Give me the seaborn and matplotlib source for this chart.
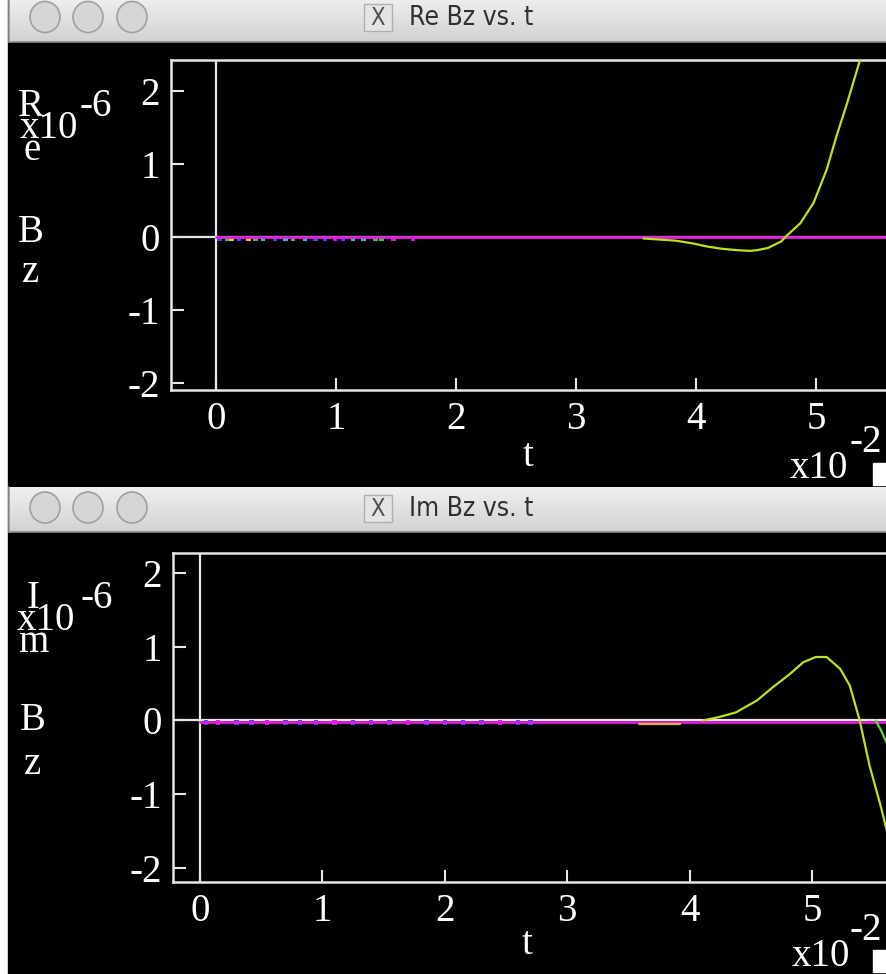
import numpy as np
import pandas as pd
import seaborn as sns
import matplotlib.pyplot as plt
from matplotlib.patches import Rectangle, Ellipse
from matplotlib.colors import LinearSegmentedColormap

# ---- data ----
re_t = [3.56, 3.83, 3.98, 4.09, 4.21, 4.34, 4.45, 4.51, 4.60, 4.71, 4.75,
        4.87, 4.98, 5.09, 5.17, 5.26, 5.36, 5.40]
re_bz = [-0.02, -0.05, -0.09, -0.13, -0.16, -0.18, -0.19, -0.18, -0.15, -0.06, 0.01,
         0.19, 0.47, 0.93, 1.38, 1.84, 2.39, 2.65]

im_t = [4.11, 4.25, 4.38, 4.55, 4.68, 4.82, 4.93, 5.03, 5.12, 5.23, 5.31,
        5.39, 5.47, 5.56, 5.62]
im_bz = [0.0, 0.05, 0.11, 0.27, 0.45, 0.63, 0.79, 0.86, 0.86, 0.70, 0.47,
         0.0, -0.61, -1.15, -1.55]
im2_t = [5.52, 5.56, 5.61]
im2_bz = [0.0, -0.12, -0.30]
im_seg_t = [3.59, 3.92]
im_seg_bz = [-0.05, -0.05]

re_noise_t = [0.03, 0.09, 0.13, 0.19, 0.27, 0.33, 0.39, 0.49, 0.58, 0.64, 0.74,
              0.83, 0.91, 0.99, 1.06, 1.14, 1.23, 1.33, 1.38, 1.48, 1.64]
re_noise_c = ["blue", "green", "yellow", "blue", "yellow", "green", "cyan", "blue",
              "cyan", "green", "cyan", "blue", "blue", "magenta", "blue", "cyan",
              "cyan", "green", "green", "magenta", "magenta"]
im_noise_t = [0.05, 0.15, 0.30, 0.42, 0.55, 0.70, 0.82, 0.95, 1.10, 1.25, 1.40,
              1.55, 1.70, 1.85, 2.00, 2.15, 2.30, 2.45, 2.60, 2.70]
im_noise_c = ["blue", "magenta", "blue", "blue", "magenta", "blue", "blue", "blue",
              "magenta", "blue", "blue", "blue", "magenta", "blue", "blue", "blue",
              "blue", "magenta", "blue", "blue"]

yticks = [-2, -1, 0, 1, 2]
xticks = [0, 1, 2, 3, 4, 5]

noise_pal = {"blue": "#3050ff", "green": "#30d040", "yellow": "#e0d020",
             "cyan": "#20c0e0", "magenta": "#d020d0"}
LIME = "#bde21c"
MAGENTA = "#e01ee0"

sns.set_theme(style="ticks")
plt.rcParams["font.family"] = ["Liberation Serif", "DejaVu Serif"]
plt.rcParams["axes.unicode_minus"] = False

W, H = 886, 974
fig = plt.figure(figsize=(W / 100, H / 100), dpi=100, facecolor="white")

# pixel-space background layer for the two X windows
bg = fig.add_axes([0, 0, 1, 1], zorder=0)
bg.set_xlim(0, W)
bg.set_ylim(H, 0)
bg.axis("off")
bg.add_patch(Rectangle((8, 0), W - 8, H, color="black"))

bar_cmap = LinearSegmentedColormap.from_list("bar", ["#f0f0f0", "#d2d2d2"])
grad = np.linspace(0, 1, 50).reshape(-1, 1)
bar_font = dict(family=["DejaVu Sans"], fontstretch="condensed")


def window_bar(y0, y1, title):
    bg.imshow(grad, extent=(9, W, y1, y0), aspect="auto", cmap=bar_cmap, zorder=1)
    bg.plot([9, W], [y1, y1], color="#8a8a8a", lw=1.2, zorder=2)
    bg.plot([9, 9], [y0, y1], color="#9a9a9a", lw=1.2, zorder=2)
    cy = (y0 + y1) / 2 - 2
    for cx in (45, 88, 132):
        bg.add_patch(Ellipse((cx, cy), 30, 31, facecolor="#d6d6d6",
                             edgecolor="#a0a0a0", lw=1.2, zorder=3))
    bg.add_patch(Rectangle((364, cy - 13), 28, 27, facecolor="#e4e4e4",
                           edgecolor="#b0b0b0", lw=1, zorder=3))
    bg.text(378, cy + 1, "X", ha="center", va="center", fontsize=17,
            color="#505050", zorder=4, **bar_font)
    bg.text(409, cy + 1, title, ha="left", va="center", fontsize=19,
            color="#303030", zorder=4, **bar_font)


window_bar(-4, 42, "Re Bz vs. t")
window_bar(487, 532, "Im Bz vs. t")

# stacked y labels and exponent texts (pixel coords)
txt = dict(color="white", fontsize=28, zorder=5)
bg.text(31, 106, "R", ha="center", va="center", **txt)
bg.text(32, 151, "e", ha="center", va="center", **txt)
bg.text(31, 233, "B", ha="center", va="center", **txt)
bg.text(31, 273, "z", ha="center", va="center", **txt)
bg.text(20, 129, "x10", ha="left", va="center", **txt)
bg.text(80, 106, "-6", ha="left", va="center", **txt)

bg.text(33, 598, "I", ha="center", va="center", **txt)
bg.text(33, 643, "m", ha="center", va="center", **txt)
bg.text(33, 721, "B", ha="center", va="center", **txt)
bg.text(33, 765, "z", ha="center", va="center", **txt)
bg.text(17, 621, "x10", ha="left", va="center", **txt)
bg.text(81, 598, "-6", ha="left", va="center", **txt)

bg.text(528, 457, "t", ha="center", va="center", **txt)
bg.text(527, 945, "t", ha="center", va="center", **txt)
bg.text(790, 468, "x10", ha="left", va="center", **txt)
bg.text(850, 443, "-2", ha="left", va="center", **txt)
bg.text(792, 956, "x10", ha="left", va="center", **txt)
bg.text(850, 931, "-2", ha="left", va="center", **txt)
for y0 in (463, 950):
    bg.add_patch(Rectangle((873, y0), 14, 22, color="white", zorder=6))


def px_rect(left, top, right, bottom):
    return [left / W, 1 - bottom / H, (right - left) / W, (bottom - top) / H]


def style_axes(ax, xlim, ylim):
    ax.set_facecolor("none")
    ax.set_xlim(*xlim)
    ax.set_ylim(*ylim)
    ax.set_xticks(xticks)
    ax.set_yticks(yticks)
    ax.set_xticklabels([str(v) for v in xticks])
    ax.set_yticklabels([str(v) for v in yticks])
    ax.tick_params(direction="in", length=9, width=1.5, color="#e6e6e6",
                   labelcolor="white", labelsize=28, pad=8)
    for side in ("left", "top", "bottom"):
        ax.spines[side].set_color("#e6e6e6")
        ax.spines[side].set_linewidth(1.8)
    ax.spines["right"].set_visible(False)
    ax.axvline(0, color="#e6e6e6", lw=1.6, zorder=1)
    ax.axhline(0, color="#e6e6e6", lw=1.6, zorder=1)
    ax.set_xlabel("")
    ax.set_ylabel("")


# ---- Re Bz ----
ax1 = fig.add_axes(px_rect(171, 60, W, 390), zorder=2)
re_noise = pd.DataFrame({"t": re_noise_t, "bz": [-0.03] * len(re_noise_t), "c": re_noise_c})
sns.scatterplot(data=re_noise, x="t", y="bz", hue="c", palette=noise_pal, marker="s",
                s=10, linewidth=0, legend=False, ax=ax1, zorder=2)
ax1.axhline(0, color=MAGENTA, lw=2.0, xmin=0.375 / 5.958, zorder=3)
sns.lineplot(x=re_t, y=re_bz, color=LIME, lw=1.6, ax=ax1, zorder=4)
style_axes(ax1, (-0.375, 5.583), (-2.096, 2.425))

# ---- Im Bz ----
ax2 = fig.add_axes(px_rect(173, 553, W, 882), zorder=2)
im_noise = pd.DataFrame({"t": im_noise_t, "bz": [-0.03] * len(im_noise_t), "c": im_noise_c})
sns.scatterplot(data=im_noise, x="t", y="bz", hue="c", palette=noise_pal, marker="s",
                s=10, linewidth=0, legend=False, ax=ax2, zorder=2)
ax2.axhline(-0.025, color=MAGENTA, lw=2.0, xmin=0.22 / 5.825, zorder=3)
sns.lineplot(x=im_seg_t, y=im_seg_bz, color="#e0b040", lw=1.6, ax=ax2, zorder=4)
sns.lineplot(x=im2_t, y=im2_bz, color="#60dc3a", lw=1.6, ax=ax2, zorder=4)
sns.lineplot(x=im_t, y=im_bz, color=LIME, lw=1.6, ax=ax2, zorder=4)
style_axes(ax2, (-0.22, 5.605), (-2.19, 2.27))

fig.savefig("out.png", dpi=100, facecolor="white")
